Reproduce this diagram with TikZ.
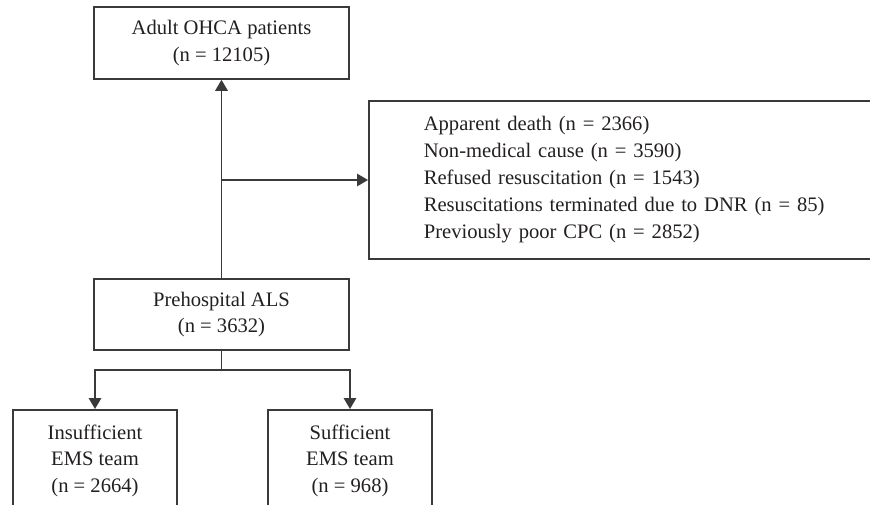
\documentclass[tikz,border=0pt]{standalone}
\usepackage{fontspec}
\setmainfont{Liberation Serif}
\usetikzlibrary{arrows.meta}
\definecolor{linegray}{HTML}{3A3A3A}
\definecolor{textgray}{HTML}{231F20}
\begin{document}
\begin{tikzpicture}[x=1pt,y=-1pt,
  box/.style={draw=linegray, line width=1.6pt, text=textgray, align=center,
    font=\fontsize{20.6}{26.8}\selectfont, inner sep=0pt},
  arr/.style={draw=linegray, line width=1.6pt, -{Triangle[length=11pt,width=12.5pt]}},
  ln/.style={draw=linegray, line width=1.6pt}]
\clip (0,0) rectangle (870,504);
\node[box, minimum width=255pt, minimum height=72pt] (top) at (221.5,43)
  {Adult OHCA patients\\(n = 12105)};
\node[box, anchor=west, align=left, text width=420pt, inner xsep=55pt,
  minimum height=158pt, font=\fontsize{20.6}{27}\selectfont] (excl) at (368,180)
  {Apparent death (n = 2366)\\Non-medical cause (n = 3590)\\Refused resuscitation (n = 1543)\\Resuscitations terminated due to DNR (n = 85)\\Previously poor CPC (n = 2852)};
\node[box, minimum width=255pt, minimum height=71pt] (als) at (221.5,314.5)
  {Prehospital ALS\\(n = 3632)};
\node[box, anchor=north, minimum width=164pt, inner ysep=14.7pt] (ins) at (95,409)
  {Insufficient\\EMS team\\(n = 2664)};
\node[box, anchor=north, minimum width=164pt, inner ysep=14.7pt] (suf) at (350,409)
  {Sufficient\\EMS team\\(n = 968)};
\coordinate (split) at (221.5,370);
\draw[arr] (als.north) -- (top.south);
\draw[arr] (als.north |- excl.west) -- (excl.west);
\draw[ln] (als.south) -- (split);
\draw[arr] (split) -| (ins.north);
\draw[arr] (split) -| (suf.north);
\end{tikzpicture}
\end{document}
